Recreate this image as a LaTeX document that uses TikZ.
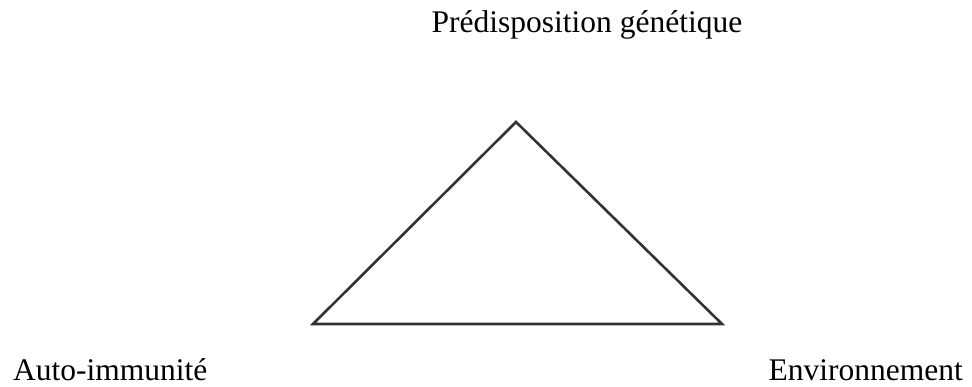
\documentclass[tikz,border=0pt]{standalone}
\usepackage{fontspec}
\setmainfont{Liberation Serif}
\begin{document}
\begin{tikzpicture}[x=1pt,y=-1pt,
  lbl/.style={font=\fontsize{31.5}{36}\selectfont, inner sep=0pt},
  edge/.style={draw=black!80, line width=2.6pt, line join=miter}]
\useasboundingbox (0,0) rectangle (972,387);
\coordinate (A) at (516,122);
\coordinate (B) at (313,324);
\coordinate (C) at (722,324);
\draw[edge] (A) -- (B) -- (C) -- cycle;
\node[lbl, anchor=base] (top) at (587,33) {Prédisposition génétique};
\node[lbl, anchor=base west] (left) at (13,380) {Auto-immunité};
\node[lbl, anchor=base east] (right) at (963,380) {Environnement};
\end{tikzpicture}
\end{document}
